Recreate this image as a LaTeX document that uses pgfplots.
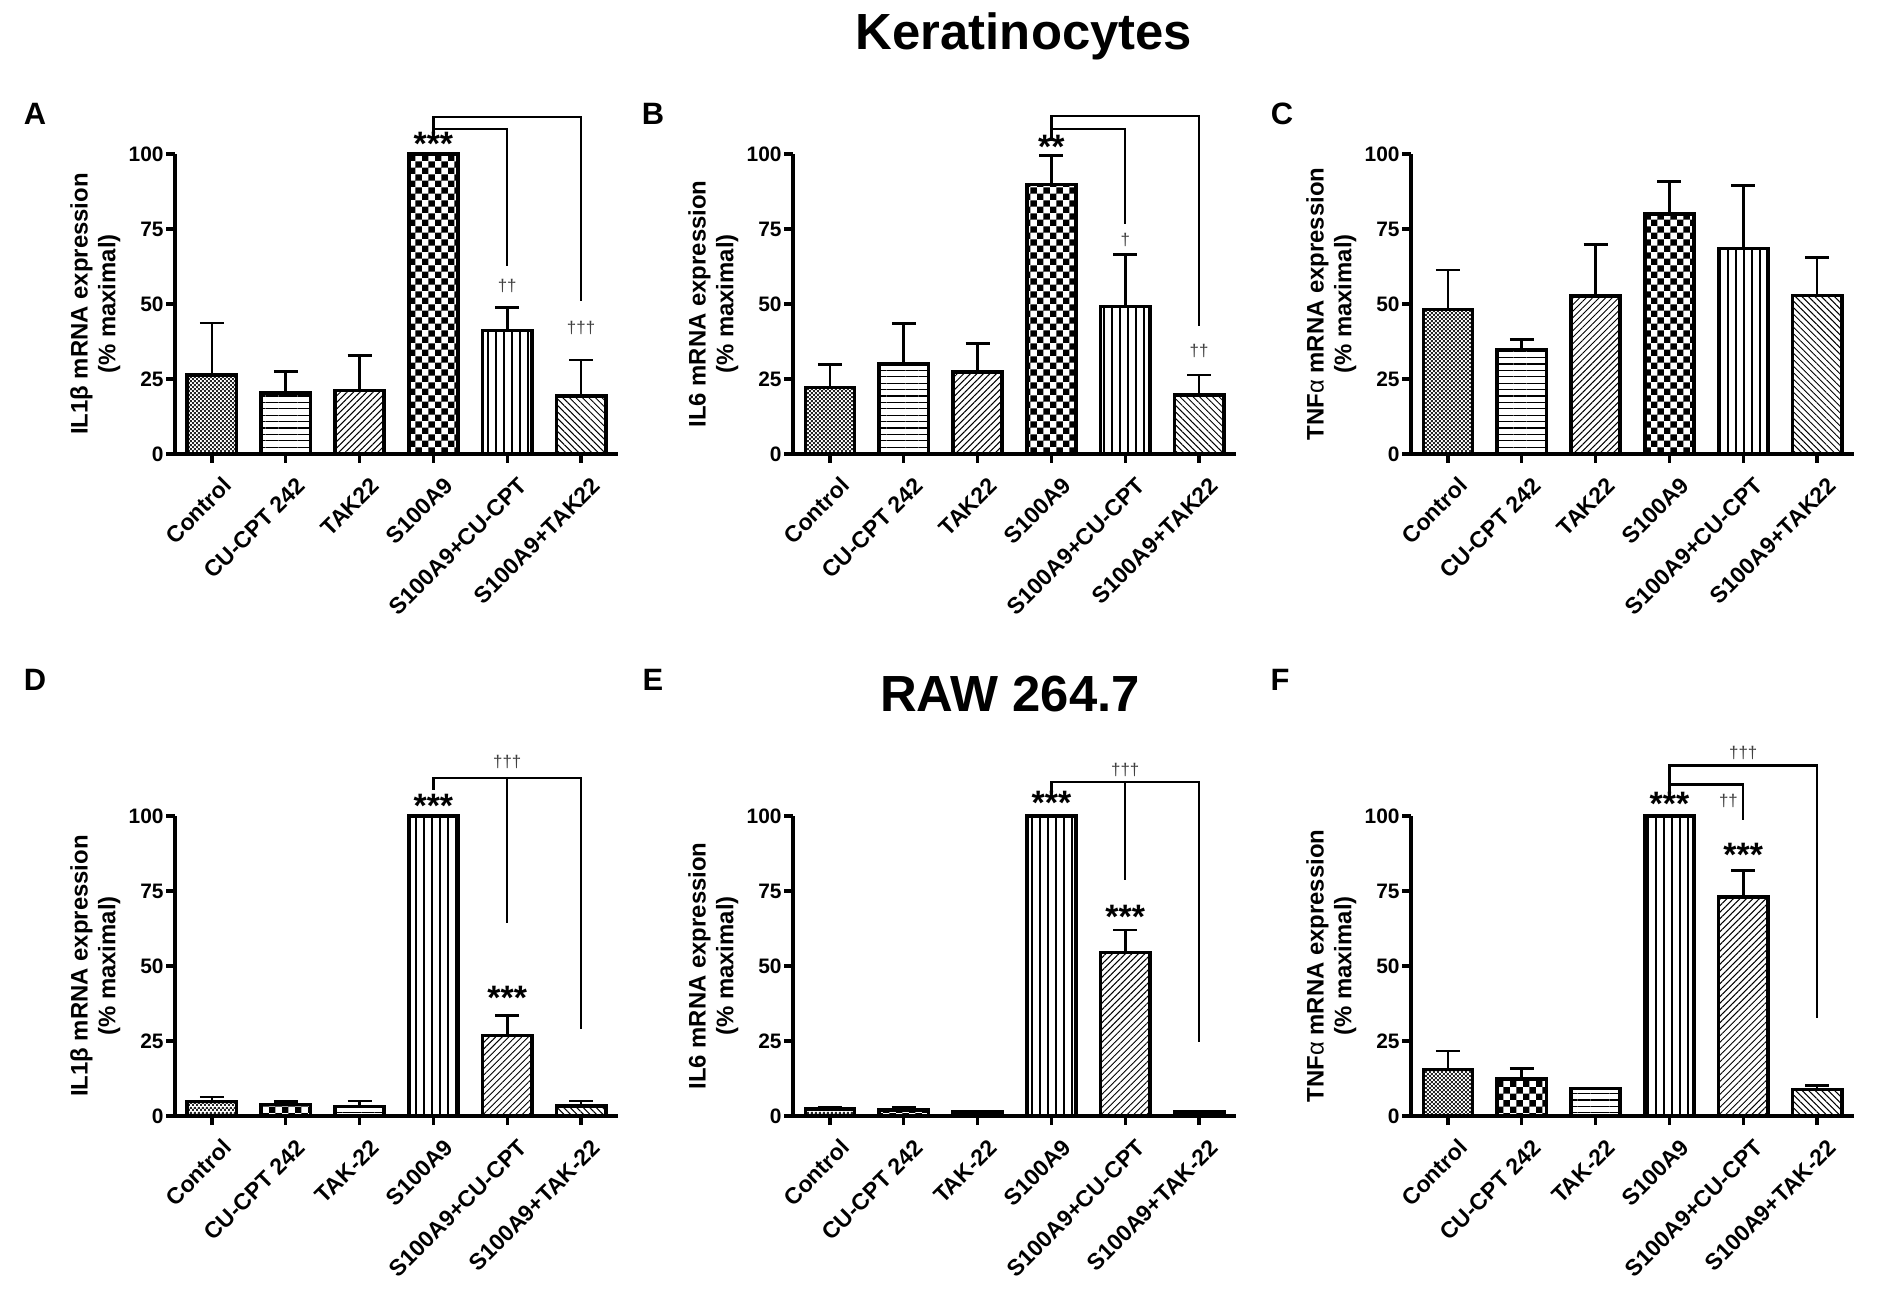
\documentclass[border=0pt]{standalone}
\usepackage{pgfplots}
\pgfplotsset{compat=1.18}
\usepackage{fontspec}
\setmainfont{Liberation Sans}
\usetikzlibrary{patterns,patterns.meta}

\pgfdeclarepatternformonly{finechk}{\pgfpointorigin}{\pgfpoint{2.2bp}{2.2bp}}{\pgfpoint{2.2bp}{2.2bp}}{%
  \pgfpathrectangle{\pgfpointorigin}{\pgfpoint{1.1bp}{1.1bp}}%
  \pgfpathrectangle{\pgfpoint{1.1bp}{1.1bp}}{\pgfpoint{1.1bp}{1.1bp}}%
  \pgfusepath{fill}}
\pgfdeclarepatternformonly{chk}{\pgfpointorigin}{\pgfpoint{6.4bp}{6.4bp}}{\pgfpoint{6.4bp}{6.4bp}}{%
  \pgfpathrectangle{\pgfpointorigin}{\pgfpoint{3.2bp}{3.2bp}}%
  \pgfpathrectangle{\pgfpoint{3.2bp}{3.2bp}}{\pgfpoint{3.2bp}{3.2bp}}%
  \pgfusepath{fill}}

\tikzset{
  pfine/.style={pattern=finechk, pattern color=black!85},
  pchk/.style={pattern=chk},
  phor/.style={pattern={Lines[angle=0,distance=3.2bp,line width=0.6bp]}},
  pver/.style={pattern={Lines[angle=90,distance=4bp,line width=0.6bp]}},
  pdiag/.style={pattern={Lines[angle=45,distance=2.3bp,line width=0.5bp]}},
  panti/.style={pattern={Lines[angle=-45,distance=2.3bp,line width=0.5bp]}},
  stars/.style={anchor=base, font=\bfseries\fontsize{17}{17}\selectfont, inner sep=0pt},
  dag/.style={anchor=base, font=\fontsize{8.5}{8.5}\selectfont, text=black!75, inner sep=0pt},
  brk/.style={line width=1.1bp, black},
  ylab/.style={rotate=90, align=center, font=\bfseries\fontsize{12}{14}\selectfont},
  plab/.style={anchor=base, font=\bfseries\fontsize{15.5}{16}\selectfont, inner sep=0pt},
}

\pgfplotsset{
  panel/.style={
    scale only axis, width=221.5bp, height=150bp,
    xmin=-0.5, xmax=5.5, ymin=0, ymax=100,
    axis x line=bottom, axis y line=left,
    axis line style={line width=1.6bp, -},
    xtick={0,1,2,3,4,5}, ytick={0,25,50,75,100},
    tick align=outside, major tick length=4.5bp,
    every tick/.style={black, line width=1.6bp},
    minor tick num=0,
    xticklabel style={rotate=45, anchor=east, font=\bfseries\fontsize{11.5}{12}\selectfont, inner sep=1bp, xshift=0bp, yshift=-12bp},
    yticklabel style={font=\bfseries\fontsize{10.5}{11}\selectfont, inner sep=1bp},
    /pgf/number format/assume math mode=true,
    clip=false,
  },
  toplabels/.style={xticklabels={Control,CU-CPT 242,TAK22,S100A9,S100A9+CU-CPT,S100A9+TAK22}},
  botlabels/.style={xticklabels={Control,CU-CPT 242,TAK-22,S100A9,S100A9+CU-CPT,S100A9+TAK-22}},
  bars/.style={ybar, bar width=0.667, bar shift=0pt, draw=black, line width=1.8bp},
  eb/.style={error bars/.cd, y dir=plus, y explicit,
    error bar style={line width=1.3bp, black, solid},
    error mark options={rotate=90, black, line width=1.3bp, mark size=6bp}},
}

\begin{document}
\begin{tikzpicture}
\useasboundingbox (0,0) rectangle (943.5bp,646bp);

% titles
\node[anchor=base, font=\bfseries\fontsize{25.5}{26}\selectfont, inner sep=0pt] at (512bp,621bp) {Keratinocytes};
\node[anchor=base, font=\bfseries\fontsize{25.5}{26}\selectfont, inner sep=0pt] at (505bp,290bp) {RAW 264.7};
\node[plab] at (17.5bp,583.5bp) {A};
\node[plab] at (326.5bp,583.5bp) {B};
\node[plab] at (641bp,583.5bp) {C};
\node[plab] at (17.5bp,300.5bp) {D};
\node[plab] at (326.5bp,300.5bp) {E};
\node[plab] at (640bp,300.5bp) {F};

% ---------- A ----------
\begin{axis}[panel, toplabels, at={(87.5bp,419bp)}, anchor=south west]
\addplot[bars, pfine, eb] coordinates {(0,26.4) +- (0,17.2)};
\addplot[bars, phor, eb] coordinates {(1,20.3) +- (0,7.1)};
\addplot[bars, pdiag, eb] coordinates {(2,21.1) +- (0,11.7)};
\addplot[bars, pchk] coordinates {(3,100)};
\addplot[bars, pver, eb] coordinates {(4,41.1) +- (0,7.8)};
\addplot[bars, panti, eb] coordinates {(5,19.4) +- (0,11.9)};
\draw[brk] (axis cs:3,106.3) -- (axis cs:3,112.3) -- (axis cs:5,112.3) -- (axis cs:5,51.1);
\draw[brk] (axis cs:3,108.3) -- (axis cs:4,108.3) -- (axis cs:4,62.8);
\node[stars] at (axis cs:3,99.4) {***};
\node[dag] at (axis cs:4,54.1) {††};
\node[dag] at (axis cs:5,40.2) {†††};
\node[ylab] at (rel axis cs:-0.18,0.5) {IL1β mRNA expression\\(\% maximal)};
\end{axis}

% ---------- B ----------
\begin{axis}[panel, toplabels, at={(396.5bp,419bp)}, anchor=south west]
\addplot[bars, pfine, eb] coordinates {(0,22.1) +- (0,7.7)};
\addplot[bars, phor, eb] coordinates {(1,30.0) +- (0,13.4)};
\addplot[bars, pdiag, eb] coordinates {(2,27.3) +- (0,9.5)};
\addplot[bars, pchk, eb] coordinates {(3,89.8) +- (0,9.6)};
\addplot[bars, pver, eb] coordinates {(4,49.2) +- (0,17.3)};
\addplot[bars, panti, eb] coordinates {(5,19.6) +- (0,6.7)};
\draw[brk] (axis cs:3,104.4) -- (axis cs:3,112.7) -- (axis cs:5,112.7) -- (axis cs:5,42.5);
\draw[brk] (axis cs:3,108.3) -- (axis cs:4,108.3) -- (axis cs:4,76.8);
\node[stars] at (axis cs:3,98.6) {**};
\node[dag] at (axis cs:4,69.5) {†};
\node[dag] at (axis cs:5,32.5) {††};
\node[ylab] at (rel axis cs:-0.18,0.5) {IL6 mRNA expression\\(\% maximal)};
\end{axis}

% ---------- C ----------
\begin{axis}[panel, toplabels, at={(705.5bp,419bp)}, anchor=south west]
\addplot[bars, pfine, eb] coordinates {(0,48.1) +- (0,13.2)};
\addplot[bars, phor, eb] coordinates {(1,34.8) +- (0,3.3)};
\addplot[bars, pdiag, eb] coordinates {(2,52.7) +- (0,17.2)};
\addplot[bars, pchk, eb] coordinates {(3,79.9) +- (0,11.0)};
\addplot[bars, pver, eb] coordinates {(4,68.5) +- (0,21.0)};
\addplot[bars, panti, eb] coordinates {(5,52.8) +- (0,12.7)};
\node[ylab] at (rel axis cs:-0.18,0.5) {TNF{\mdseries α} mRNA expression\\(\% maximal)};
\end{axis}

% ---------- D ----------
\begin{axis}[panel, botlabels, at={(87.5bp,88bp)}, anchor=south west]
\addplot[bars, pfine, eb] coordinates {(0,4.8) +- (0,1.5)};
\addplot[bars, pchk, eb] coordinates {(1,3.8) +- (0,1.0)};
\addplot[bars, phor, eb] coordinates {(2,3.1) +- (0,1.9)};
\addplot[bars, pver] coordinates {(3,100)};
\addplot[bars, pdiag, eb] coordinates {(4,26.8) +- (0,6.8)};
\addplot[bars, panti, eb] coordinates {(5,3.4) +- (0,1.6)};
\draw[brk] (axis cs:3,108.8) -- (axis cs:3,112.6) -- (axis cs:5,112.6) -- (axis cs:5,28.9);
\draw[brk] (axis cs:4,112.6) -- (axis cs:4,64.2);
\node[stars] at (axis cs:3,99.6) {***};
\node[stars] at (axis cs:4,35.6) {***};
\node[dag] at (axis cs:4,116.1) {†††};
\node[ylab] at (rel axis cs:-0.18,0.5) {IL1β mRNA expression\\(\% maximal)};
\end{axis}

% ---------- E ----------
\begin{axis}[panel, botlabels, at={(396.5bp,88bp)}, anchor=south west]
\addplot[bars, pfine, eb] coordinates {(0,2.4) +- (0,0.6)};
\addplot[bars, pchk, eb] coordinates {(1,2.1) +- (0,0.7)};
\addplot[bars, phor, eb] coordinates {(2,1.3) +- (0,0.2)};
\addplot[bars, pver] coordinates {(3,100)};
\addplot[bars, pdiag, eb] coordinates {(4,54.5) +- (0,7.5)};
\addplot[bars, panti, eb] coordinates {(5,1.3) +- (0,0.3)};
\draw[brk] (axis cs:3,107.5) -- (axis cs:3,111.3) -- (axis cs:5,111.3) -- (axis cs:5,24.7);
\draw[brk] (axis cs:4,111.3) -- (axis cs:4,78.7);
\node[stars] at (axis cs:3,100.4) {***};
\node[stars] at (axis cs:4,62.6) {***};
\node[dag] at (axis cs:4,113.5) {†††};
\node[ylab] at (rel axis cs:-0.18,0.5) {IL6 mRNA expression\\(\% maximal)};
\end{axis}

% ---------- F ----------
\begin{axis}[panel, botlabels, at={(705.5bp,88bp)}, anchor=south west]
\addplot[bars, pfine, eb] coordinates {(0,15.5) +- (0,6.2)};
\addplot[bars, pchk, eb] coordinates {(1,12.4) +- (0,3.4)};
\addplot[bars, phor] coordinates {(2,9.2)};
\addplot[bars, pver] coordinates {(3,100)};
\addplot[bars, pdiag, eb] coordinates {(4,72.9) +- (0,8.9)};
\addplot[bars, panti, eb] coordinates {(5,8.8) +- (0,1.3)};
\draw[brk] (axis cs:3,107) -- (axis cs:3,116.8) -- (axis cs:5,116.8) -- (axis cs:5,32.8);
\draw[brk] (axis cs:3,110.5) -- (axis cs:4,110.5) -- (axis cs:4,98.5);
\node[stars] at (axis cs:3,100.1) {***};
\node[stars] at (axis cs:4,83.1) {***};
\node[dag] at (axis cs:3.8,103.0) {††};
\node[dag] at (axis cs:4,119.1) {†††};
\node[ylab] at (rel axis cs:-0.18,0.5) {TNF{\mdseries α} mRNA expression\\(\% maximal)};
\end{axis}
\end{tikzpicture}
\end{document}
